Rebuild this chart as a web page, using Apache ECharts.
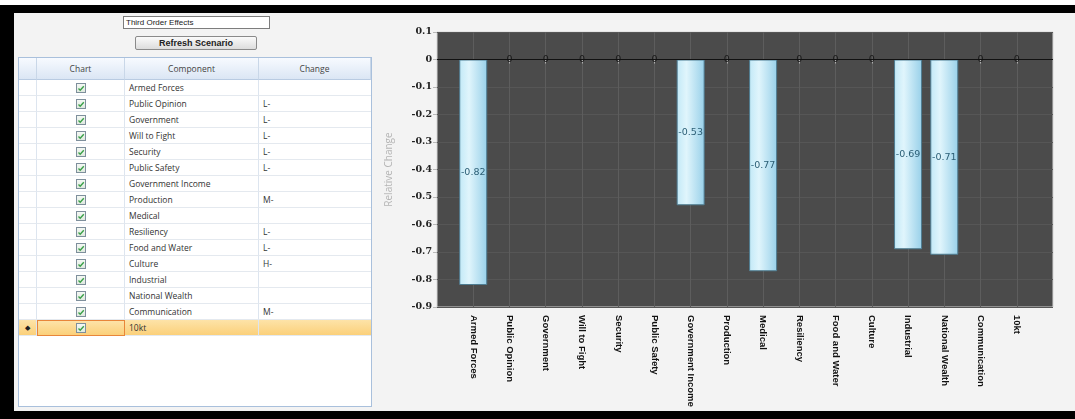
<!DOCTYPE html>
<html>
<head>
<meta charset="utf-8">
<script src="https://cdn.jsdelivr.net/npm/echarts@6.0.0/dist/echarts.min.js"></script>
<style>
  body { margin: 0; width: 1075px; height: 419px; background: #fff; overflow: hidden; position: relative; font-family: 'Open Sans', sans-serif; }
  #frame { position: absolute; left: 0; top: 5px; width: 1075px; height: 414px; background: #000; }
  #panel { position: absolute; left: 14px; top: 13px; width: 1061px; height: 398px; background: #f3f3f3; }
  #scenario { position: absolute; left: 123px; top: 16px; width: 143px; height: 11px; border: 1px solid #7d7d7d; background: #fff;
    font-size: 8px; line-height: 11px; padding-left: 2px; color: #222; font-family: 'Liberation Sans', sans-serif; }
  #refresh { position: absolute; left: 135px; top: 36px; width: 120px; height: 12px; border: 1px solid #8a8a8a; border-radius: 2px;
    background: linear-gradient(#fafafa, #dcdcdc); font-size: 9px; font-weight: bold; line-height: 12px; text-align: center; color: #222;
    font-family: 'Liberation Sans', sans-serif; }
  #grid { position: absolute; left: 18px; top: 57px; width: 352px; height: 348px; border: 1px solid #a9c0dc; background: #fff; }
  .cell { position: absolute; box-sizing: border-box; font-size: 8.5px; color: #333; white-space: nowrap; }
  .hd { background: linear-gradient(#f7faff, #dbe6f4); border-right: 1px solid #c9d7e8; border-bottom: 1px solid #b9cbe2; text-align: center; line-height: 21px; color: #444; }
  .rw { border-right: 1px solid #dde5ef; border-bottom: 1px solid #e4e9ef; line-height: 15px; }
  .sel { background: linear-gradient(#fde3a8, #fbd07a); }
  .box { position: absolute; width: 8px; height: 8px; border: 1px solid #7e8f9c; background: linear-gradient(#f4f8f4, #dfe9df); }
  #chart { position: absolute; left: 376px; top: 0; width: 699px; height: 419px; }
</style>
</head>
<body>
<div id="frame"></div>
<div id="panel"></div>
<div id="scenario">Third Order Effects</div>
<div id="refresh">Refresh Scenario</div>
<div id="grid"></div>
<div id="chart"></div>
<script>
// components in the scenario, their change tags and the relative change plotted
const components = ['Armed Forces', 'Public Opinion', 'Government', 'Will to Fight', 'Security', 'Public Safety',
  'Government Income', 'Production', 'Medical', 'Resiliency', 'Food and Water', 'Culture', 'Industrial',
  'National Wealth', 'Communication', '10kt'];
const changes = ['', 'L-', 'L-', 'L-', 'L-', 'L-', '', 'M-', '', 'L-', 'L-', 'H-', '', '', 'M-', ''];
const relChange = [-0.82, 0, 0, 0, 0, 0, -0.53, 0, -0.77, 0, 0, 0, -0.69, -0.71, 0, 0];

// left hand table
const cols = [0, 18, 106, 240, 352];
const heads = ['', 'Chart', 'Component', 'Change'];
let html = '';
for (let c = 0; c < 4; c++) {
  html += `<div class="cell hd" style="left:${cols[c]}px;top:0;width:${cols[c + 1] - cols[c]}px;height:22px">${heads[c]}</div>`;
}
components.forEach((name, i) => {
  const top = 22 + i * 16;
  const sel = i === components.length - 1;
  const cls = 'cell rw' + (sel ? ' sel' : '');
  html += `<div class="${cls}" style="left:0;top:${top}px;width:18px;height:16px;text-align:center;font-size:7px;color:#222">${sel ? '◆' : ''}</div>`;
  html += `<div class="${cls}" style="left:18px;top:${top}px;width:88px;height:16px;${sel ? 'border:1px solid #e8863a;' : ''}">` +
    `<div class="box" style="left:${sel ? 38 : 39}px;top:${sel ? 2 : 3}px">` +
    `<svg width="8" height="8" style="position:absolute;left:0;top:0"><polyline points="1.5,4.5 3.2,6.2 6.8,2.2" fill="none" stroke="#3aa048" stroke-width="1.4"/></svg></div></div>`;
  html += `<div class="${cls}" style="left:106px;top:${top}px;width:134px;height:16px;padding-left:4px">${name}</div>`;
  html += `<div class="${cls}" style="left:240px;top:${top}px;width:112px;height:16px;padding-left:4px;border-right:none">${changes[i]}</div>`;
});
document.getElementById('grid').innerHTML = html;

// chart: one empty slot at each end so the bars sit a full band in from the frame
const cats = [''].concat(components, ['']);
const barData = [null].concat(relChange.map(v => ({
  value: v,
  label: { color: v === 0 ? '#1a1a1a' : '#2c5f76' }
})), [null]);
const inner = (i) => i > 0 && i < cats.length - 1;

const myChart = echarts.init(document.getElementById('chart'));
myChart.setOption({
  animation: false,
  grid: {
    left: 60, top: 32, width: 617, height: 275,
    show: true, backgroundColor: '#4b4b4b', borderColor: '#d6d6d6', borderWidth: 1
  },
  xAxis: {
    type: 'category',
    data: cats,
    boundaryGap: false,
    axisLine: { show: false },
    axisTick: { show: true, length: 4, interval: inner, lineStyle: { color: '#b0b0b0' } },
    splitLine: { show: true, interval: inner, lineStyle: { color: '#5d5d5d' } },
    axisLabel: {
      interval: 0, rotate: -90, margin: 8,
      fontFamily: 'Liberation Sans', fontWeight: 'bold', fontSize: 9.5, color: '#111'
    }
  },
  yAxis: {
    type: 'value',
    min: -0.9, max: 0.1, interval: 0.1,
    name: 'Relative Change', nameLocation: 'middle', nameGap: 43,
    nameTextStyle: { color: '#b5b5b5', fontSize: 10, fontFamily: 'Open Sans' },
    axisLine: { show: false },
    axisTick: { show: true, length: 4, lineStyle: { color: '#b8b8b8' } },
    splitLine: { lineStyle: { color: '#565656' } },
    axisLabel: {
      margin: 5, fontFamily: 'DejaVu Serif', fontWeight: 'bold', fontSize: 9.5, color: '#222',
      formatter: v => Math.abs(v) < 1e-9 ? '0' : v.toFixed(1)
    }
  },
  series: [{
    type: 'bar',
    data: barData,
    barWidth: 28,
    itemStyle: {
      color: new echarts.graphic.LinearGradient(0, 0, 1, 0, [
        { offset: 0, color: '#c2e9f7' },
        { offset: 0.35, color: '#e0f5fc' },
        { offset: 1, color: '#98d0e9' }
      ]),
      borderColor: '#4e7c91',
      borderWidth: 1
    },
    label: {
      show: true, position: 'inside', fontSize: 9.5, fontFamily: 'DejaVu Sans',
      formatter: p => p.value === 0 ? '0' : p.value.toFixed(2)
    },
    markLine: {
      silent: true, symbol: 'none',
      label: { show: false },
      lineStyle: { color: '#111', width: 1, type: 'solid' },
      data: [{ yAxis: 0 }]
    }
  }]
});
</script>
</body>
</html>
